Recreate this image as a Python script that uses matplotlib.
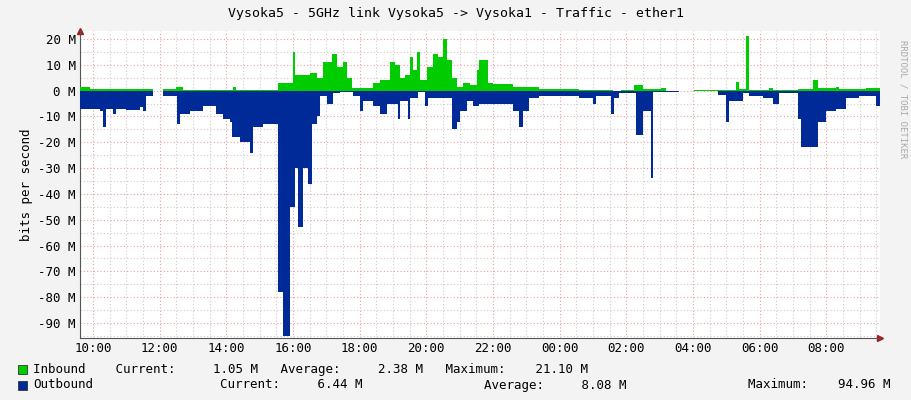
import numpy as np
import matplotlib
matplotlib.use("Agg")
import matplotlib.pyplot as plt

nan = float('nan')
# hours relative to 10:00, values in Mbit/s
out_t = [-0.39,0.2,0.3,0.4,0.6,0.7,1.0,1.4,1.5,1.6,1.8,1.83,2.11,2.51,2.61,2.9,3.3,3.7,3.9,4.1,4.16,4.4,4.7,4.8,5.1,
         5.56,5.71,5.91,6.06,6.16,6.31,6.46,6.56,6.71,6.81,7.01,7.21,7.41,7.81,8.01,8.11,8.41,8.61,8.81,9.16,9.21,9.46,
         9.51,9.76,9.96,10.06,10.76,10.91,11.01,11.21,11.41,11.59,12.59,12.79,12.89,13.09,13.39,14.59,14.99,15.09,15.54,
         15.64,15.79,16.29,16.49,16.74,16.79,17.59,17.69,18.04,18.74,18.99,19.09,19.49,19.69,20.09,20.39,20.59,21.14,
         21.24,21.74,21.99,22.29,22.59,22.99,23.49,23.61]
out_v = [-7,-8,-14,-7,-9,-7,-7.5,-6.5,-8,-2,-7,nan,-2,-13,-9,-8,-6,-9,-11,-12,-18,-20,-24,-14,-13,
         -78,-95,-45,-30,-53,-30,-36,-13,-10,-2,-5,-1,-0.5,-2,-8,-4,-6,-9,-5,-11,-4,-11,
         -3,-0.5,-6,-3,-15,-12,-8,-4,-6,-5,-8,-14,-8,-3,-2,-3,-5,-2,-9,
         -3,-1,-17,-8,-34,-0.5,-2.5,nan,-0.3,-1.5,-12,-4,-1,-2,-3,-5,-1,-11,
         -22,-12,-8,-7,-3,-2,-6,-6]
in_t = [-0.39,-0.1,1.8,1.83,2.11,2.5,2.7,4.2,4.3,5.56,6.01,6.06,6.51,6.71,6.91,7.16,7.31,7.51,7.61,7.76,8.41,8.61,
        8.91,9.06,9.21,9.36,9.51,9.61,9.71,9.81,10.01,10.21,10.36,10.51,10.61,10.76,10.91,11.11,11.31,11.51,11.59,
        11.84,11.99,12.59,13.39,14.59,15.59,15.84,16.24,16.49,17.04,17.19,17.69,18.04,18.69,19.29,19.39,19.59,19.69,
        20.29,20.39,21.14,21.59,21.74,22.29,22.39,23.19,23.61]
in_v = [1.5,0.6,0.3,nan,0.5,1.5,0.3,1.5,0.3,3,15,6,7,5,11,14,9,11,5,1,3,4,
        11,10,5,6,13,8,15,4,9,14,13,20,12,5,1.5,3,2,8,12,
        3,2.5,1.5,0.7,0.3,0,0.3,2,0.7,1,0.3,nan,0.3,0.1,3.5,0.5,21,0.3,
        1,0.2,0.5,4,1,1.5,0.5,1,1]
tick_hours = list(range(0, 24, 2))
tick_labels = [f"{(10+h)%24:02d}:00" for h in tick_hours]
y_ticks = list(range(20, -91, -10))

mono = "DejaVu Sans Mono"
fs = 9
fig = plt.figure(figsize=(9.11, 4.0), dpi=100, facecolor="#F3F3F3")
ax = fig.add_axes([80/911, 62/400, 800/911, 307/400])
ax.set_facecolor("white")
ot = np.array(out_t); ov = np.array(out_v)
it = np.array(in_t); iv = np.array(in_v)
ax.fill_between(it, 0, iv, step="post", color="#00CC00", lw=0, zorder=3)
ax.fill_between(ot, 0, ov, step="post", color="#002A97", lw=0, zorder=3)
ax.set_xlim(-0.39, 23.61)
ax.set_ylim(-95.8, 23.1)
for h in np.arange(0, 24, 0.5):
    ax.axvline(h, color="#E8A0A0" if h % 2 == 0 else "#CCCCCC", lw=0.8, ls=(0, (1, 2)), zorder=1)
for yv in range(-95, 25, 5):
    ax.axhline(yv, color="#E8A0A0" if yv % 10 == 0 else "#CCCCCC", lw=0.8, ls=(0, (1, 2)), zorder=1)
ax.set_xticks(tick_hours)
ax.set_xticklabels(tick_labels, fontfamily=mono, fontsize=fs)
ax.set_yticks(y_ticks)
ax.set_yticklabels([f"{v} M" for v in y_ticks], fontfamily=mono, fontsize=fs)
ax.tick_params(length=0, pad=3)
for s in ["top", "right"]:
    ax.spines[s].set_visible(False)
for s in ["left", "bottom"]:
    ax.spines[s].set_color("#555555")
    ax.spines[s].set_linewidth(0.8)
ax.set_ylabel("bits per second", fontfamily=mono, fontsize=fs)
ax.plot([-0.39], [23.1], marker="^", color="#A02020", ms=4, clip_on=False)
ax.plot([23.61], [-95.8], marker=">", color="#A02020", ms=4, clip_on=False)

fig.text(0.5, 1-14/400, "Vysoka5 - 5GHz link Vysoka5 -> Vysoka1 - Traffic - ether1",
         ha="center", va="center", fontfamily=mono, fontsize=fs+0.5)
fig.text(903/911, 0.9, "RRDTOOL / TOBI OETIKER", rotation=270, ha="center", va="top",
         fontfamily=mono, fontsize=6.5, color="#AAAAAA")
fig.patches.append(plt.Rectangle((18/911, 1-374/400), 9/911, 9/400, transform=fig.transFigure,
                                 facecolor="#00CC00", edgecolor="#333333", lw=0.6))
fig.patches.append(plt.Rectangle((18/911, 1-390/400), 9/911, 9/400, transform=fig.transFigure,
                                 facecolor="#002A97", edgecolor="#333333", lw=0.6))
fig.text(33/911, 1-369/400, "Inbound    Current:     1.05 M   Average:     2.38 M   Maximum:    21.10 M",
         va="center", fontfamily=mono, fontsize=fs)
fig.text(33/911, 1-385/400, "Outbound", va="center", fontfamily=mono, fontsize=fs)
fig.text(220/911, 1-385/400, "Current:     6.44 M", va="center", fontfamily=mono, fontsize=fs)
fig.text(484/911, 1-385/400, "Average:     8.08 M", va="center", fontfamily=mono, fontsize=fs)
fig.text(748/911, 1-385/400, "Maximum:    94.96 M", va="center", fontfamily=mono, fontsize=fs)
fig.savefig("out.png", dpi=100, facecolor=fig.get_facecolor())
